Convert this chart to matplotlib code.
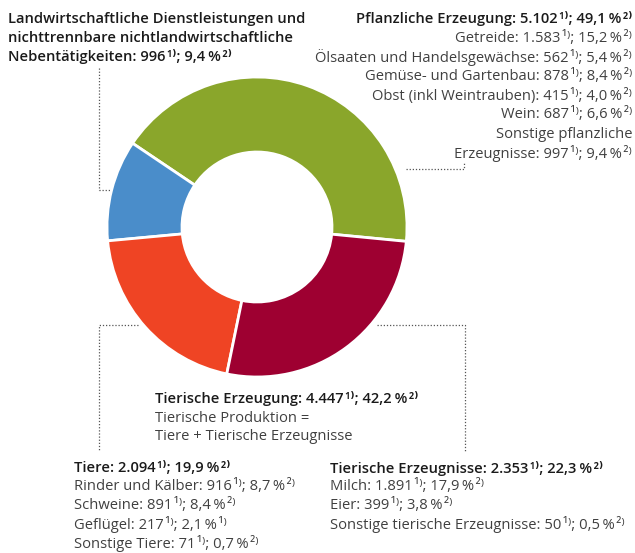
import matplotlib.pyplot as plt
from matplotlib.lines import Line2D

plt.rcParams['font.family'] = ['Open Sans', 'DejaVu Sans']

# donut slices, shares as drawn in the picture (percent of the ring)
segments = ["Pflanzliche Erzeugung", "Dienstleistungen", "Tiere", "Tierische Erzeugnisse"]
slice_share = [42.1, 10.9, 20.3, 26.7]
slice_colors = ["#8aa62b", "#4a8dca", "#ef4424", "#9e0031"]

# label values (Mio. Euro, percent)
plant_names = ["Getreide", "Ölsaaten und Handelsgewächse", "Gemüse- und Gartenbau",
               "Obst (inkl Weintrauben)", "Wein", "Sonstige pflanzliche\nErzeugnisse"]
plant_amounts = [1583, 562, 878, 415, 687, 997]
plant_pcts = [15.2, 5.4, 8.4, 4.0, 6.6, 9.4]

animal_names = ["Rinder und Kälber", "Schweine", "Geflügel", "Sonstige Tiere"]
animal_amounts = [916, 891, 217, 71]
animal_pcts = [8.7, 8.4, 2.1, 0.7]
animal_pct_note = ["²⁾", "²⁾", "¹⁾", "²⁾"]

product_names = ["Milch", "Eier", "Sonstige tierische Erzeugnisse"]
product_amounts = [1891, 399, 50]
product_pcts = [17.9, 3.8, 0.5]

totals_names = ["Pflanzliche Erzeugung", "Tiere", "Tierische Erzeugnisse", "Tierische Erzeugung"]
totals_amounts = [5102, 2094, 2353, 4447]
totals_pcts = [49.1, 19.9, 22.3, 42.2]
service_amount = 996
service_pct = 9.4


def fmt(name, amount, pct, note="²⁾"):
    a = f"{amount:,}".replace(",", ".")
    p = f"{pct:.1f}".replace(".", ",")
    return f"{name}: {a}\u200a¹⁾; {p}\u2009%\u200a{note}"


W, H = 635, 553
fig = plt.figure(figsize=(W / 100, H / 100), dpi=100)

# overlay axes in pixel coordinates for texts and leader lines
tx = fig.add_axes([0, 0, 1, 1])
tx.set_xlim(0, W)
tx.set_ylim(H, 0)
tx.axis('off')

# donut
cx, cy, r = 257, 227, 150
ax = fig.add_axes([(cx - r) / W, (H - cy - r) / H, 2 * r / W, 2 * r / H])
ax.pie(slice_share, colors=slice_colors, startangle=-5.5, counterclock=True,
       wedgeprops=dict(width=0.5, edgecolor='white', linewidth=2))
ax.set_xlim(-1, 1)
ax.set_ylim(-1, 1)
ax.axis('off')

fs = 10.6
head_kw = dict(fontsize=fs, color='#1a1a1a', weight='semibold', va='center')
item_kw = dict(fontsize=fs, color='#404040', weight='normal', va='center')
lh = 19.2

# top left: services
tl_lines = ["Landwirtschaftliche Dienstleistungen und",
            "nichttrennbare nichtlandwirtschaftliche",
            fmt("Nebentätigkeiten", service_amount, service_pct)]
for i, s in enumerate(tl_lines):
    tx.text(8, 19 + i * 18.6, s, ha='left', **head_kw)

# top right: plant production
tx.text(632, 19, fmt(totals_names[0], totals_amounts[0], totals_pcts[0]), ha='right', **head_kw)
right_lines = []
for n, a, p in zip(plant_names, plant_amounts, plant_pcts):
    parts = fmt(n, a, p).split("\n")
    right_lines.extend(parts)
for i, s in enumerate(right_lines):
    tx.text(632, 19 + (i + 1) * lh, s, ha='right', **item_kw)

# bottom centre: animal production
tx.text(155, 398, fmt(totals_names[3], totals_amounts[3], totals_pcts[3]), ha='left', **head_kw)
tx.text(155, 418, "Tierische Produktion =", ha='left', **item_kw)
tx.text(155, 437, "Tiere + Tierische Erzeugnisse", ha='left', **item_kw)

# bottom left: animals
tx.text(74, 468, fmt(totals_names[1], totals_amounts[1], totals_pcts[1]), ha='left', **head_kw)
for i, (n, a, p, nt) in enumerate(zip(animal_names, animal_amounts, animal_pcts, animal_pct_note)):
    tx.text(74, 468 + (i + 1) * 18.8, fmt(n, a, p, nt), ha='left', **item_kw)

# bottom right: animal products
tx.text(330, 468, fmt(totals_names[2], totals_amounts[2], totals_pcts[2]), ha='left', **head_kw)
for i, (n, a, p) in enumerate(zip(product_names, product_amounts, product_pcts)):
    tx.text(330, 468 + (i + 1) * 18.8, fmt(n, a, p), ha='left', **item_kw)

# dotted leader lines
lk = dict(color='#555555', linewidth=0.9, linestyle=(0, (1, 1.5)))
tx.add_line(Line2D([98.5, 98.5, 110], [68, 190, 190], **lk))
tx.add_line(Line2D([406, 464, 464], [169, 169, 162], **lk))
tx.add_line(Line2D([138, 98.5, 98.5], [325, 325, 450], **lk))
tx.add_line(Line2D([377, 465, 465], [325, 325, 452], **lk))

fig.savefig("out.png", dpi=100)
